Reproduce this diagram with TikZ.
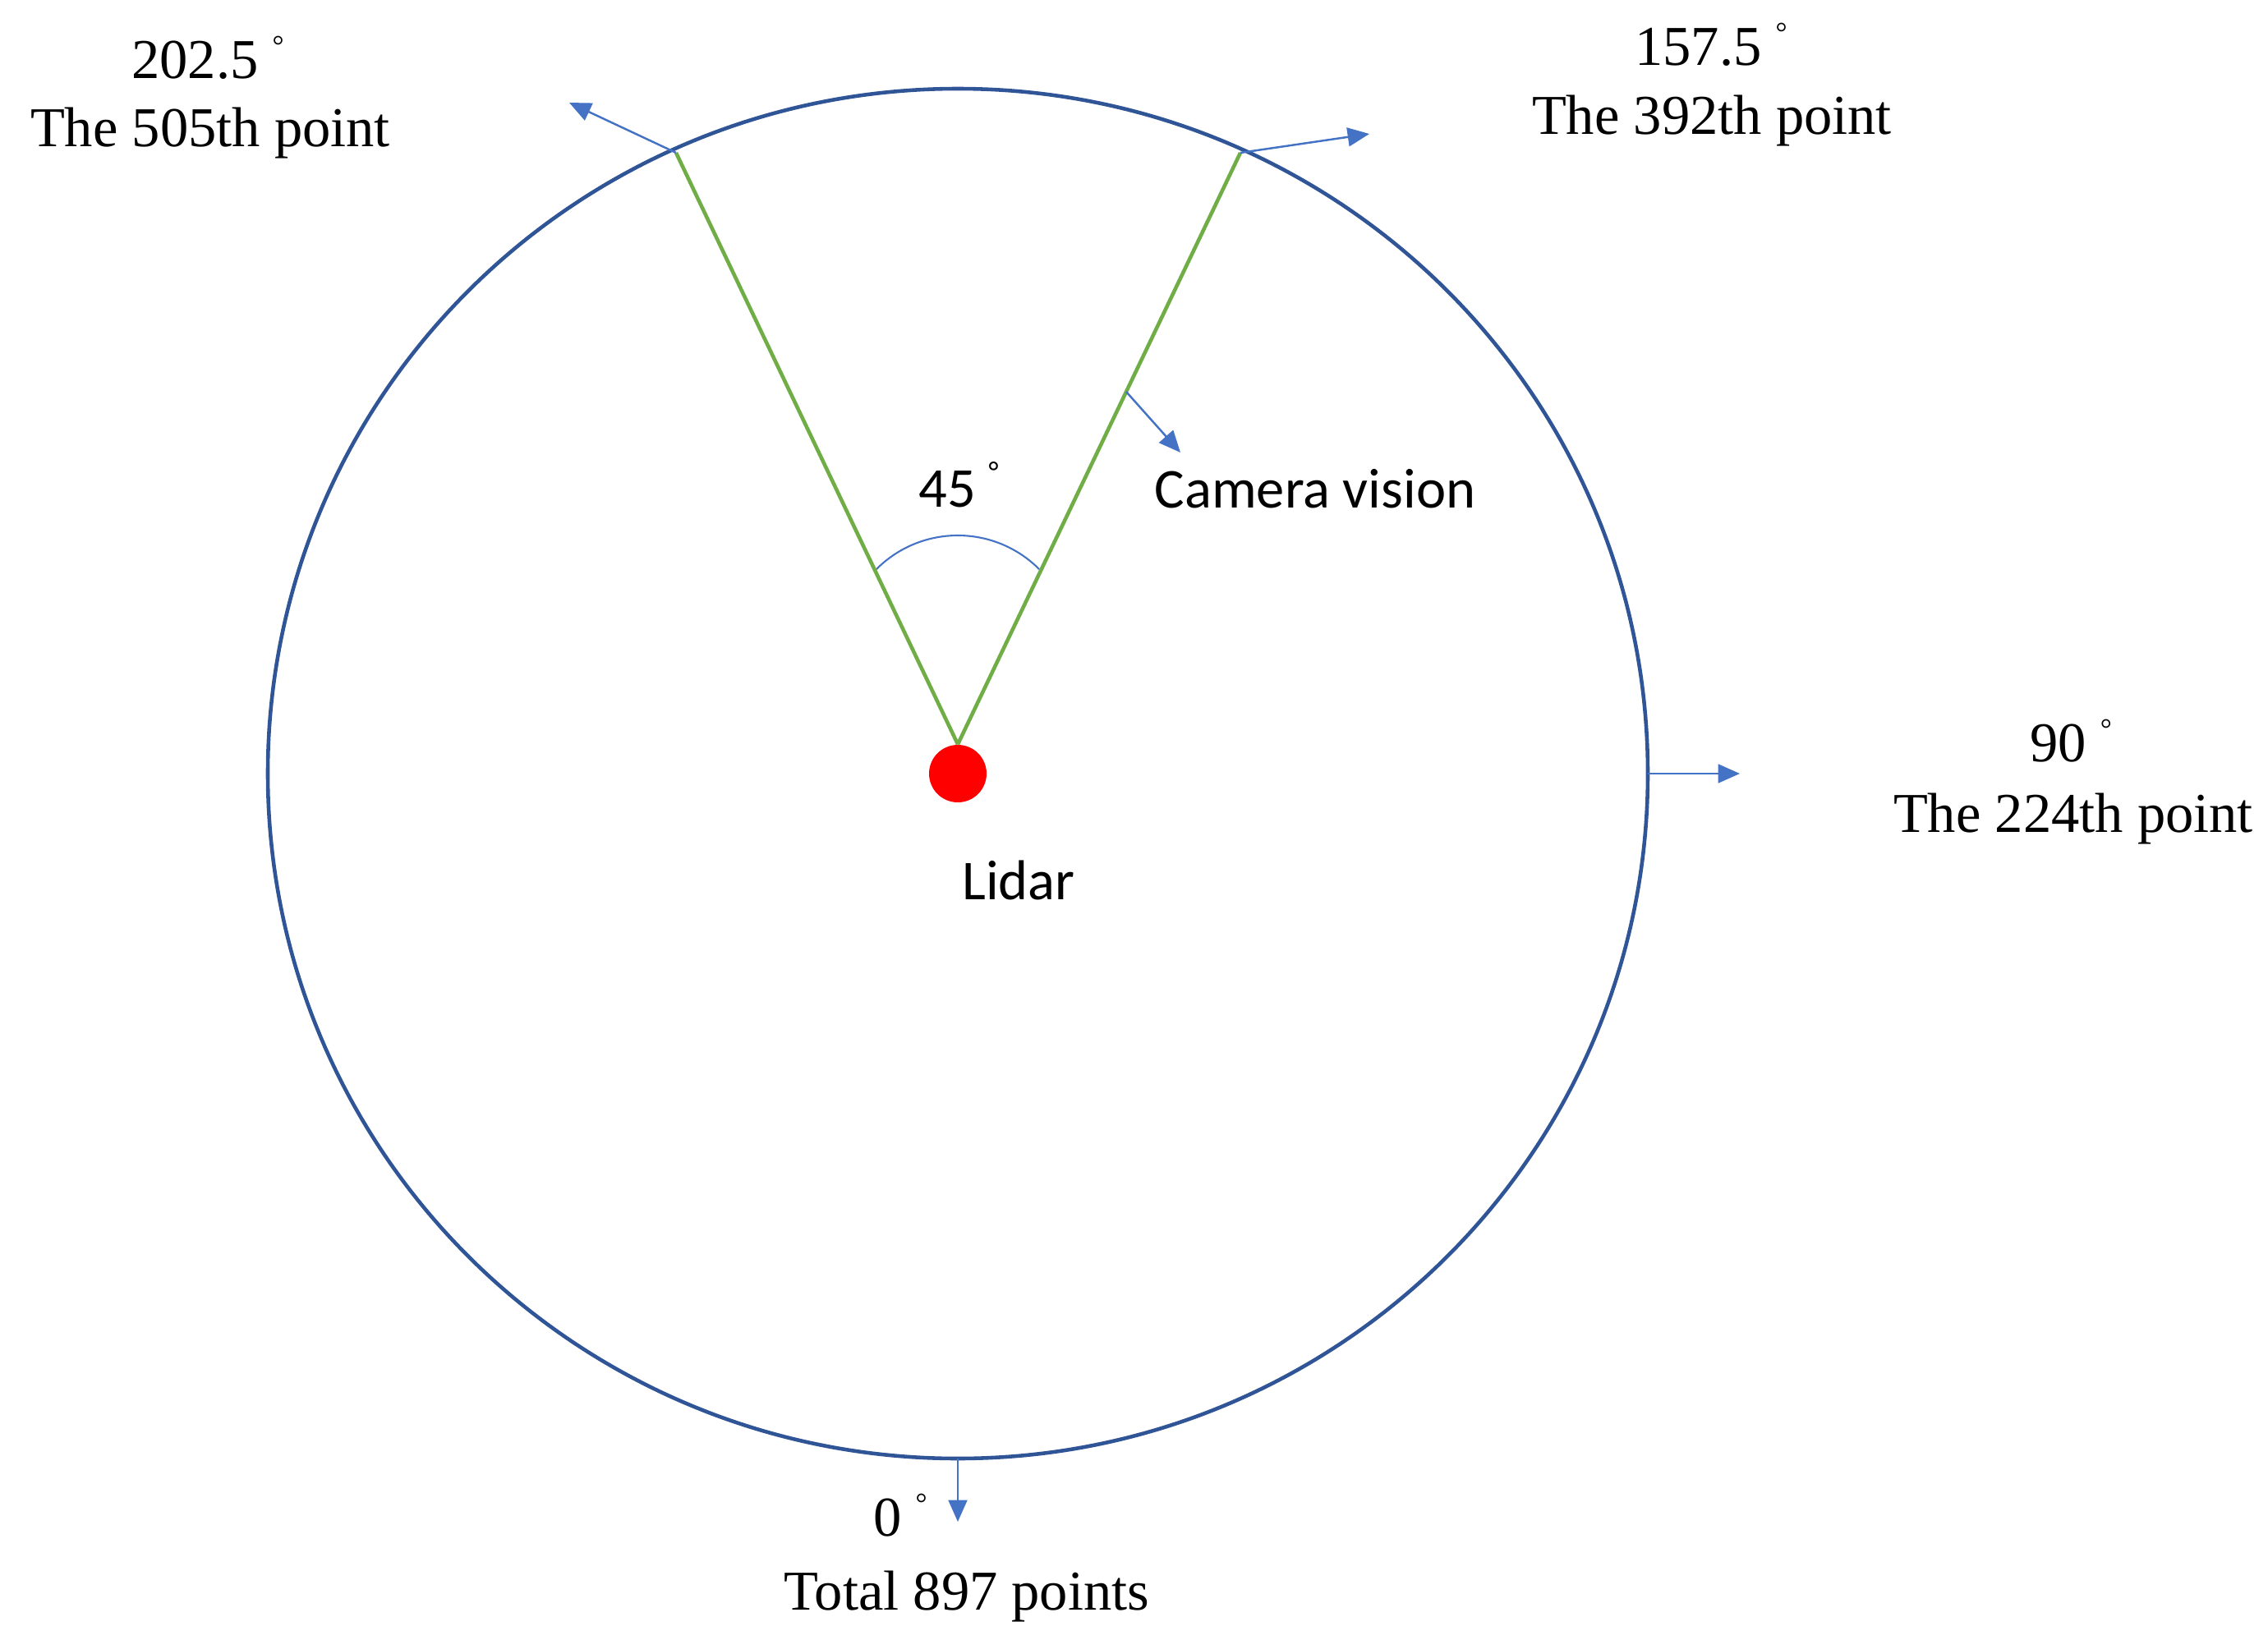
\documentclass[tikz,border=0pt]{standalone}
\usepackage{fontspec}
\setmainfont{Liberation Serif}
\newfontfamily\calib{Carlito}
\usetikzlibrary{arrows.meta,calc}

\definecolor{ringblue}{HTML}{2F5597}
\definecolor{arrowblue}{HTML}{4472C4}
\definecolor{fovgreen}{HTML}{70AD47}

\newcommand{\degmark}[1][7.8pt]{\raisebox{#1}{\fontsize{10}{10}\selectfont °}}

\tikzset{
  serif/.style={font=\fontsize{19.5}{23}\selectfont, inner sep=0pt, anchor=base},
  sans/.style={font=\calib\fontsize{19.5}{23}\selectfont, inner sep=0pt, anchor=base},
  pointer/.style={arrowblue, line width=0.7pt, -{Triangle[length=7.5pt,width=6.5pt]}},
  fov/.style={fovgreen, line width=1.3pt},
}

\begin{document}
\begin{tikzpicture}
\useasboundingbox (0,0) rectangle (27.61,-19.97);

\coordinate (o) at (11.66,-9.42);
\draw[ringblue, line width=1.3pt] (o) ellipse (8.40 and 8.34);

\node[circle, fill=red, inner sep=0pt, minimum size=0.7cm] (lidar) at (o) {};
\node[sans] (lidarlbl) at (12.40,-10.95) {Lidar};

\coordinate (p505) at (8.23,-1.86);
\coordinate (p392) at (15.10,-1.86);
\coordinate (p224) at ($(o)+(8.40,0)$);
\coordinate (p0) at ($(o)+(0,-8.34)$);

\coordinate (t505) at (6.93,-1.25);
\coordinate (t392) at (16.67,-1.63);
\coordinate (t224) at (21.18,-9.42);
\coordinate (t0) at (11.66,-18.53);
\coordinate (tcam) at (14.37,-5.51);

\draw[fov] (lidar.north) -- (p505);
\draw[fov] (lidar.north) -- (p392);

\coordinate (arcc) at (11.66,-7.92);
\draw[arrowblue, line width=0.6pt] ([shift={(45:1.4)}]arcc) arc (45:135:1.4);
\node[sans] (fovlbl) at (11.67,-6.17) {45 \degmark[8.8pt]};

\draw[pointer] ($(lidar.north)!0.596!(p392)$) -- (tcam);
\node[sans] (camlbl) at (16.01,-6.18) {Camera vision};

\draw[pointer] (p505) -- (t505);
\draw[pointer] (p392) -- (t392);
\draw[pointer] (p224) -- (t224);
\draw[pointer] (p0) -- (t0);

\node[serif] (ang505) at (2.53,-0.95) {202.5 \degmark};
\node[serif] (idx505) at (2.56,-1.78) {The 505th point};

\node[serif] (ang392) at (20.83,-0.79) {157.5 \degmark};
\node[serif] (idx392) at (20.84,-1.63) {The 392th point};

\node[serif] (ang224) at (25.21,-9.27) {90 \degmark};
\node[serif] (idx224) at (25.24,-10.13) {The 224th point};

\node[serif] (ang0) at (10.96,-18.70) {0 \degmark};
\node[serif] (total) at (11.77,-19.60) {Total 897 points};
\end{tikzpicture}
\end{document}
